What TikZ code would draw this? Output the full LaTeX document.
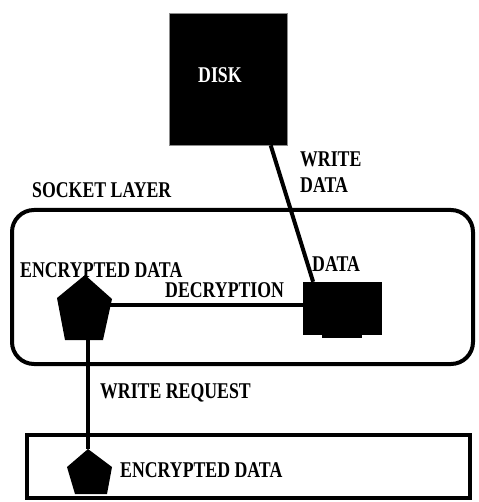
\documentclass[tikz,border=0pt]{standalone}
\usepackage{fontspec}
\newfontfamily\lblfont[FakeStretch=0.79]{Liberation Serif}
\usetikzlibrary{calc}
\tikzset{
  lbl/.style={anchor=west, inner sep=0pt, font=\lblfont\bfseries\fontsize{22.5}{24}\selectfont},
  conn/.style={line width=4pt},
  frame/.style={draw, line width=4pt},
  blackbox/.style={fill=black, inner sep=0pt}
}
\begin{document}
\begin{tikzpicture}[x=1pt, y=-1pt]
  \useasboundingbox (0,0) rectangle (478,502);

  % containers
  \draw[frame, rounded corners=22pt] (12,210) rectangle (473,364);
  \draw[frame] (27,435) rectangle (470,498);

  % disk
  \node[blackbox, draw=black!45, line width=0.6pt, minimum width=118pt, minimum height=132pt] (disk) at (228,79) {};

  % plain data block
  \node[blackbox, minimum width=79pt, minimum height=53pt] (datab) at (342.5,308.5) {};
  \fill (322,330) rectangle (362,338);

  % encrypted data pentagons: corner points
  \coordinate (p1t)  at (85,275);
  \coordinate (p1r)  at (112,299);
  \coordinate (p1br) at (103,340);
  \coordinate (p1bl) at (65,340);
  \coordinate (p1l)  at (57,298);
  \coordinate (p1c)  at (88,310);
  \coordinate (p1e)  at (108,305);

  \coordinate (p2t)  at (88,449);
  \coordinate (p2r)  at (112,467);
  \coordinate (p2br) at (107,494);
  \coordinate (p2bl) at (75,494);
  \coordinate (p2l)  at (67,467);

  % connectors
  \draw[conn] ($(disk.south west)!0.86!(disk.south east)$) -- ($(datab.north west)!0.13!(datab.north east)$);
  \draw[conn] (p1e) -- (datab.west |- p1e);
  \draw[conn] (p1c) -- (p2t);

  % pentagons
  \fill (p1t) -- (p1r) -- (p1br) -- (p1bl) -- (p1l) -- cycle;
  \fill (p2t) -- (p2r) -- (p2br) -- (p2bl) -- (p2l) -- cycle;

  % labels
  \node[lbl, text=white] (disklbl) at (198,75) {DISK};
  \node[lbl] (wr1) at (300,159) {WRITE};
  \node[lbl] (wr2) at (300,185) {DATA};
  \node[lbl] (sock) at (32,190) {SOCKET LAYER};
  \node[lbl] (enc1) at (20,270) {ENCRYPTED DATA};
  \node[lbl] (dec) at (165,290) {DECRYPTION};
  \node[lbl] (datalbl) at (312,264) {DATA};
  \node[lbl] (wreq) at (100,393) {WRITE REQUEST};
  \node[lbl] (enc2) at (120,470) {ENCRYPTED DATA};
\end{tikzpicture}
\end{document}
